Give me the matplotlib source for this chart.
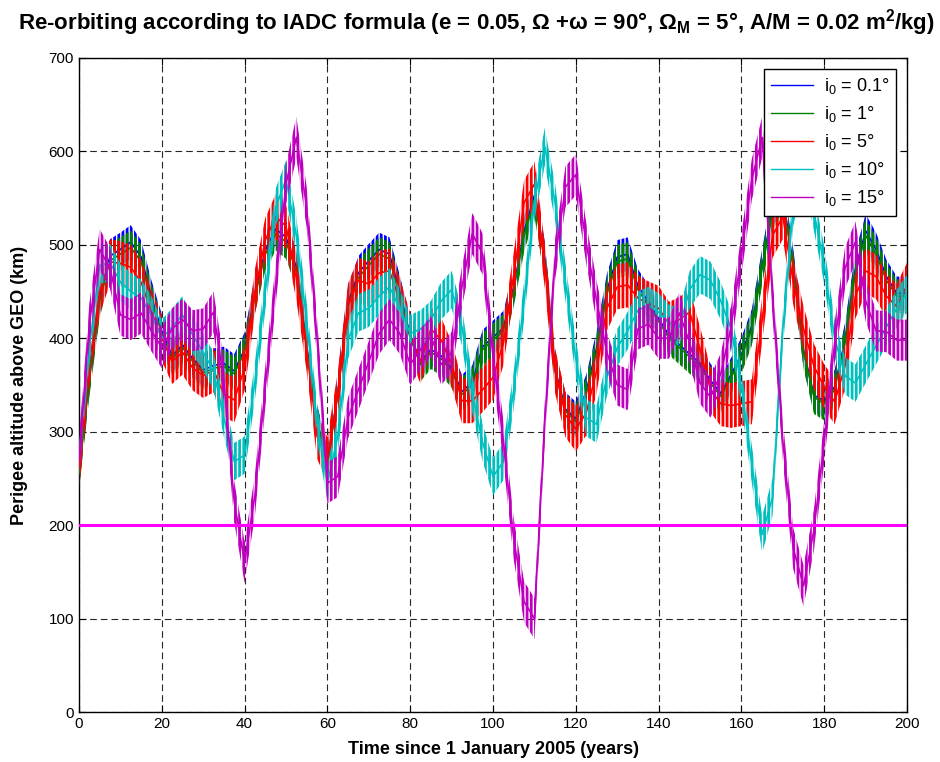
import numpy as np
import matplotlib.pyplot as plt
from matplotlib.lines import Line2D

plt.rcParams['font.family'] = ['Liberation Sans', 'DejaVu Sans']
plt.rcParams['mathtext.fontset'] = 'custom'
plt.rcParams['mathtext.rm'] = 'Liberation Sans'
plt.rcParams['mathtext.bf'] = 'Liberation Sans:bold'
plt.rcParams['hatch.linewidth'] = 2.0

# perigee altitude above GEO (km), one value every 2.5 years from 2005
years = np.linspace(0, 200, 81)

alt_i01 = [258, 358, 444, 488, 495, 503, 487, 444, 408, 381,
           393, 378, 366, 371, 373, 365, 388, 448, 494, 517,
           508, 476, 392, 311, 266, 342, 438, 470, 483, 495,
           490, 449, 403, 375, 388, 381, 368, 343, 353, 391,
           401, 411, 455, 514, 553, 485, 367, 324, 314, 343,
           389, 451, 487, 490, 456, 439, 421, 403, 393, 383,
           373, 355, 341, 361, 383, 413, 478, 538, 552, 478,
           387, 339, 333, 348, 398, 474, 515, 495, 466, 448,
           448]
alt_i1 = [255, 355, 440, 483, 490, 497, 482, 440, 405, 378,
          390, 375, 363, 368, 370, 362, 385, 445, 490, 512,
          503, 472, 390, 310, 265, 340, 435, 465, 478, 490,
          485, 445, 400, 372, 385, 378, 365, 340, 350, 388,
          398, 408, 452, 510, 548, 482, 365, 322, 311, 340,
          385, 447, 482, 485, 452, 435, 418, 400, 390, 380,
          370, 352, 338, 358, 380, 410, 475, 535, 548, 475,
          385, 337, 330, 345, 395, 470, 510, 490, 462, 445,
          445]
alt_i5 = [262, 372, 450, 482, 480, 476, 460, 428, 400, 375,
          385, 368, 360, 366, 340, 334, 368, 450, 505, 530,
          520, 465, 388, 295, 270, 340, 435, 462, 458, 470,
          472, 440, 403, 375, 410, 398, 372, 333, 333, 345,
          358, 395, 468, 545, 565, 478, 365, 318, 303, 320,
          365, 432, 455, 457, 443, 437, 432, 415, 420, 428,
          388, 345, 330, 328, 330, 332, 420, 510, 530, 460,
          410, 370, 348, 332, 370, 445, 472, 466, 445, 434,
          457]
alt_i10 = [275, 390, 478, 481, 460, 450, 443, 425, 400, 412,
           425, 403, 385, 365, 315, 268, 275, 354, 450, 540,
           570, 510, 418, 310, 245, 295, 398, 427, 432, 445,
           455, 432, 405, 410, 420, 440, 452, 412, 340, 288,
           252, 268, 345, 440, 546, 605, 545, 460, 378, 315,
           308, 358, 390, 408, 430, 435, 428, 416, 412, 452,
           468, 462, 440, 410, 348, 265, 190, 230, 410, 540,
           590, 535, 478, 400, 360, 352, 372, 392, 412, 432,
           448]
alt_i15 = [270, 415, 495, 475, 425, 420, 427, 408, 390, 410,
           420, 408, 410, 428, 355, 225, 160, 232, 348, 458,
           565, 615, 540, 400, 245, 252, 315, 345, 375, 405,
           420, 405, 372, 388, 402, 372, 385, 455, 512, 490,
           380, 290, 185, 118, 100, 310, 485, 562, 575, 502,
           440, 385, 350, 345, 410, 415, 400, 400, 427, 395,
           352, 337, 362, 412, 490, 570, 615, 445, 290, 175,
           135, 195, 290, 395, 475, 503, 440, 408, 407, 398,
           398]

# half of the yearly swing of each curve (km)
swing = [18, 18, 24, 20, 22]

labels = ['i$_0$ = 0.1°', 'i$_0$ = 1°', 'i$_0$ = 5°', 'i$_0$ = 10°', 'i$_0$ = 15°']
colors = ['#0000ff', '#008000', '#ff0000', '#00bfbf', '#bf00bf']
threshold = 200

fig = plt.figure(figsize=(9.4, 7.62), dpi=100)
ax = fig.add_axes([0.084, 0.0656, 0.881, 0.8584])

series = [alt_i01, alt_i1, alt_i5, alt_i10, alt_i15]
for alt, sw, c in zip(series, swing, colors):
    alt = np.array(alt, dtype=float)
    ax.plot(years, alt, color=c, lw=1.2, zorder=3)
    # the yearly oscillation is drawn as a hatched band between the extremes
    ax.fill_between(years, alt - sw, alt + sw, facecolor='none', edgecolor=c,
                    hatch='||||', linewidth=0, zorder=3)

ax.axhline(threshold, color='#ff00ff', lw=2.2, zorder=4)

ax.set_xlim(0, 200)
ax.set_ylim(0, 700)
ax.set_xticks(np.arange(0, 201, 20))
ax.set_yticks(np.arange(0, 701, 100))
ax.tick_params(direction='in', top=True, right=True, labelsize=11, length=5)
ax.grid(True, color='0.15', linestyle=(0, (6, 3.6)), linewidth=0.8)
ax.set_axisbelow(True)
for s in ax.spines.values():
    s.set_linewidth(1.0)

ax.set_xlabel('Time since 1 January 2005 (years)', fontsize=13, fontweight='bold', labelpad=7)
ax.set_ylabel('Perigee altitude above GEO (km)', fontsize=13, fontweight='bold', labelpad=15)

title = ('Re-orbiting according to IADC formula (e = 0.05, Ω +ω = 90°, '
         'Ω$_{\\mathbf{M}}$ = 5°, A/M = 0.02 m$^{\\mathbf{2}}$/kg)')
fig.text(0.507, 0.961, title, fontsize=16, fontweight='bold', ha='center', va='baseline')

handles = [Line2D([], [], color=c, lw=1.0) for c in colors]
leg = ax.legend(handles, labels, loc='upper right', fontsize=13, fancybox=False,
                framealpha=1, edgecolor='black', handlelength=2.3, handletextpad=0.6,
                borderaxespad=0.6, labelspacing=0.45, bbox_to_anchor=(1.0, 1.0))
leg.get_frame().set_linewidth(1.0)
leg.set_zorder(10)

fig.savefig('out.png', dpi=100)
